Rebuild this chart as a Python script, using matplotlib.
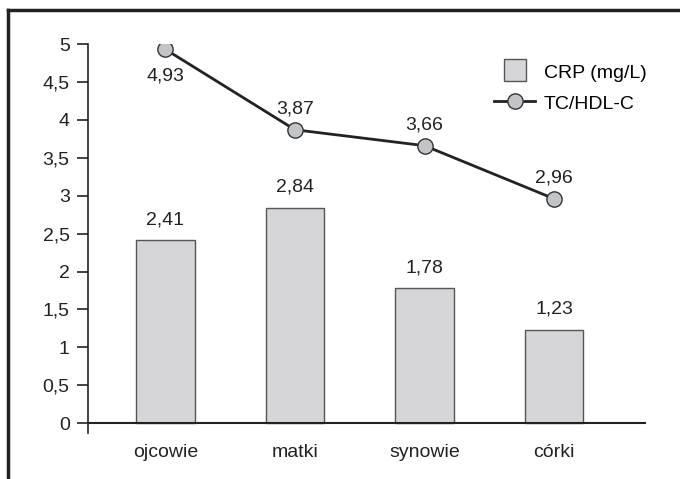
import numpy as np
import matplotlib.pyplot as plt
from matplotlib.lines import Line2D

plt.rcParams['font.family'] = ['Liberation Sans', 'DejaVu Sans']

groups = ['ojcowie', 'matki', 'synowie', 'córki']
crp = [2.41, 2.84, 1.78, 1.23]
tc_hdl = [4.93, 3.87, 3.66, 2.96]
yticks = [0, 0.5, 1, 1.5, 2, 2.5, 3, 3.5, 4, 4.5, 5]

FS = 14
INK = '#222222'


def fmt(v, nd=None):
    s = ('%.' + str(nd) + 'f') % v if nd is not None else '%g' % v
    return s.replace('.', ',')


fig = plt.figure(figsize=(6.8, 4.79), dpi=100)
ax = fig.add_axes([0.129, 0.096, 0.821, 0.812])

x = np.arange(len(groups))
ax.bar(x, crp, width=0.45, color='#d6d6d8', edgecolor='#555555', linewidth=1.0, zorder=2)
ax.plot(x, tc_hdl, color=INK, linewidth=2, marker='o', markersize=11,
        markerfacecolor='#c3c4c8', markeredgecolor='#333333', markeredgewidth=1.0, zorder=3)

for xi, v in zip(x, crp):
    ax.text(xi, v + 0.16, fmt(v, 2), ha='center', va='bottom', fontsize=FS, color=INK)

for i, (xi, v) in enumerate(zip(x, tc_hdl)):
    if i == 0:
        ax.text(xi, v - 0.24, fmt(v, 2), ha='center', va='top', fontsize=FS, color=INK)
    else:
        ax.text(xi, v + 0.16, fmt(v, 2), ha='center', va='bottom', fontsize=FS, color=INK)

ax.set_xlim(-0.6, 3.71)
ax.set_ylim(-0.13, 5)
ax.axhline(0, color=INK, linewidth=1.5, zorder=4)

for side in ['top', 'right', 'bottom']:
    ax.spines[side].set_visible(False)
ax.spines['left'].set_linewidth(1.2)
ax.spines['left'].set_color(INK)

ax.set_yticks(yticks)
ax.set_yticklabels([fmt(t) for t in yticks], fontsize=FS, color=INK)
ax.tick_params(axis='y', length=8, width=1.2, color=INK, pad=5)
ax.set_xticks(x)
ax.set_xticklabels(groups, fontsize=FS, color=INK)
ax.tick_params(axis='x', length=0, pad=8)

handles = [
    Line2D([], [], linestyle='none', marker='s', markersize=16.5,
           markerfacecolor='#d6d6d8', markeredgecolor='#555555', markeredgewidth=1.0,
           label='CRP (mg/L)'),
    Line2D([], [], color=INK, linewidth=2, marker='o', markersize=11,
           markerfacecolor='#c3c4c8', markeredgecolor='#333333', label='TC/HDL-C'),
]
ax.legend(handles=handles, loc='upper left', bbox_to_anchor=(0.728, 0.952), frameon=False,
          fontsize=FS, handlelength=2.1, handleheight=1.0, handletextpad=0.45,
          labelspacing=0.6, borderpad=0, borderaxespad=0)

# open frame: top and left edges only
fig.add_artist(Line2D([0.012, 1.0], [0.979, 0.979], color=INK, linewidth=2.5))
fig.add_artist(Line2D([0.012, 0.012], [0.0, 0.979], color=INK, linewidth=2.5))

fig.savefig('out.png', dpi=100)
